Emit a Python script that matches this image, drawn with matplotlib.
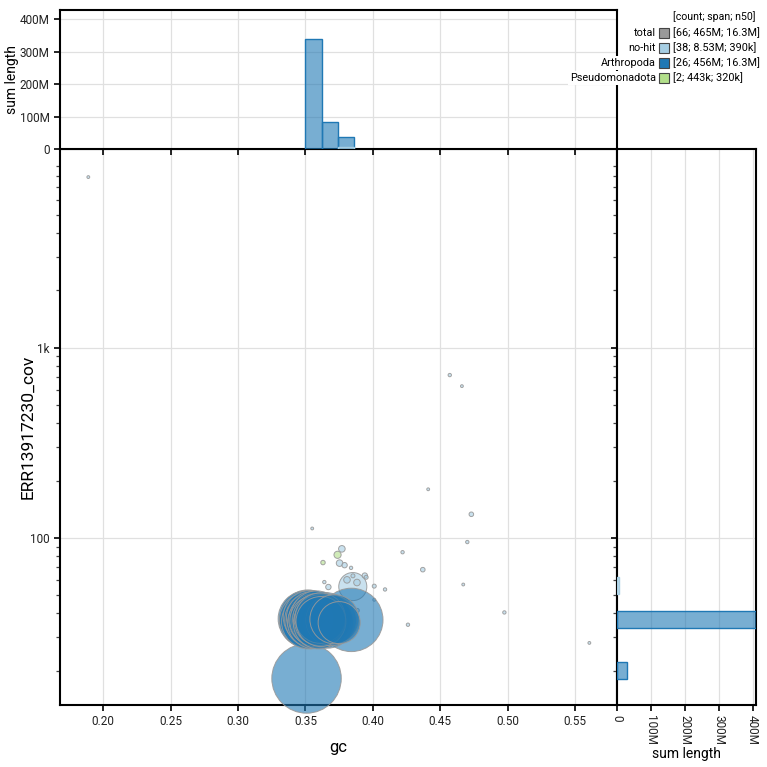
import numpy as np
import matplotlib.pyplot as plt
from matplotlib.patches import Rectangle
from matplotlib.ticker import FixedLocator, FuncFormatter, NullFormatter

plt.rcParams['font.family'] = ['Roboto', 'DejaVu Sans']

# contigs por categoria: gc, cobertura, longitud (Mbp)
nohit_gc = [0.189, 0.457, 0.466, 0.441, 0.473, 0.355, 0.470, 0.422, 0.437, 0.467,
            0.4975, 0.426, 0.5605, 0.401, 0.409, 0.394, 0.395, 0.377, 0.3753, 0.379,
            0.3838, 0.364, 0.367, 0.3808, 0.3852, 0.3882, 0.3851, 0.401, 0.3884,
            0.352, 0.355, 0.357, 0.359, 0.361, 0.363, 0.366, 0.368, 0.354]
nohit_cov = [7900, 718, 628, 180, 133, 112, 95, 84, 68, 56.8,
             40.5, 34.9, 28, 55.7, 53.5, 63.3, 62.0, 87.5, 73.6, 71.8,
             69.5, 58.5, 55.1, 60.1, 63.1, 58.2, 55.4, 47.2, 41.5,
             37, 36, 38, 35.5, 37.5, 36.5, 38.5, 36, 39]
nohit_len = [0.05, 0.07, 0.05, 0.05, 0.13, 0.05, 0.07, 0.07, 0.13, 0.05,
             0.07, 0.07, 0.05, 0.10, 0.07, 0.18, 0.10, 0.27, 0.27, 0.18,
             0.07, 0.07, 0.18, 0.27, 0.10, 0.27, 4.90, 0.05, 0.10,
             0.05, 0.05, 0.05, 0.05, 0.05, 0.05, 0.05, 0.05, 0.04]

arth_gc = [0.3508, 0.3840, 0.3750,
           0.3505, 0.3512, 0.3518, 0.3525, 0.3532, 0.3540, 0.3547, 0.3553, 0.3560,
           0.3567, 0.3575, 0.3582, 0.3588, 0.3595, 0.3600, 0.3605, 0.3610, 0.3615,
           0.3625, 0.3645, 0.3665, 0.3690, 0.3715]
arth_cov = [18.2, 37.0, 35.8,
            37.5, 36.8, 37.9, 36.2, 38.3, 37.0, 36.5, 38.0, 35.8,
            37.2, 36.6, 38.5, 36.0, 37.4, 35.5, 36.9, 37.8, 36.3,
            36.4, 37.6, 35.9, 36.8, 37.3]
arth_len = [30.0, 25.0, 11.0,
            19.5, 19.0, 19.5, 18.5, 17.5, 17.0, 17.0, 17.0, 16.8,
            16.6, 16.5, 16.5, 16.5, 16.3, 16.3, 16.0, 15.8, 15.5,
            17.5, 17.0, 16.5, 16.0, 15.0]

pseudo_gc = [0.3738, 0.363]
pseudo_cov = [81.4, 74.1]
pseudo_len = [0.32, 0.123]

categorias = ['no-hit', 'Arthropoda', 'Pseudomonadota']
colores = {'no-hit': '#a6cee3', 'Arthropoda': '#1f78b4', 'Pseudomonadota': '#b2df8a'}
leyenda_filas = [('total', '#999999', '[66; 465M; 16.3M]'),
                 ('no-hit', '#a6cee3', '[38; 8.53M; 390k]'),
                 ('Arthropoda', '#1f78b4', '[26; 456M; 16.3M]'),
                 ('Pseudomonadota', '#b2df8a', '[2; 443k; 320k]')]

datos = {'no-hit': (nohit_gc, nohit_cov, nohit_len),
         'Arthropoda': (arth_gc, arth_cov, arth_len),
         'Pseudomonadota': (pseudo_gc, pseudo_cov, pseudo_len)}

DPI = 100
W = 767


def area(len_mb):
    r_px = 6.34 * np.sqrt(np.asarray(len_mb))
    return (2 * r_px * 72 / DPI) ** 2


def rgba(hexcol, a):
    h = hexcol.lstrip('#')
    return tuple(int(h[i:i + 2], 16) / 255 for i in (0, 2, 4)) + (a,)


fig = plt.figure(figsize=(W / DPI, W / DPI), dpi=DPI)
ax = fig.add_axes([60 / W, 62 / W, 557 / W, 556 / W])
ax_top = fig.add_axes([60 / W, 618 / W, 557 / W, 139 / W], sharex=ax)
ax_right = fig.add_axes([617 / W, 62 / W, 139 / W, 556 / W], sharey=ax)

gc_edges = 0.350 + 0.0121 * np.arange(-16, 21)
cov_edges = 10 ** (np.log10(33.5) + 0.0895 * np.arange(-8, 31))

# dispersion
for cat in categorias:
    gc, cov, ln = datos[cat]
    orden = np.argsort(ln)[::-1]
    gc = np.asarray(gc)[orden]
    cov = np.asarray(cov)[orden]
    ln = np.asarray(ln)[orden]
    ax.scatter(gc, cov, s=area(ln), facecolor=rgba(colores[cat], 0.6),
               edgecolor=(0.6, 0.6, 0.6, 0.9), linewidth=0.7, clip_on=False, zorder=3)

# histogramas (bins casi vacios no se ven en el original)
for cat in ['Arthropoda', 'no-hit', 'Pseudomonadota']:
    gc, cov, ln = datos[cat]
    w = np.asarray(ln) * 1e6
    h, _ = np.histogram(gc, bins=gc_edges, weights=w)
    m = h > 1e6
    ax_top.bar(gc_edges[:-1][m], h[m], width=np.diff(gc_edges)[m], align='edge',
               facecolor=rgba(colores[cat], 0.6), edgecolor=colores[cat], linewidth=1, zorder=3)
    h, _ = np.histogram(cov, bins=cov_edges, weights=w)
    m = h > 1e6
    ax_right.barh(cov_edges[:-1][m], h[m], height=np.diff(cov_edges)[m], align='edge',
                  facecolor=rgba(colores[cat], 0.6), edgecolor=colores[cat], linewidth=1, zorder=3)

ax.set_yscale('log')
ax.set_xlim(0.168, 0.581)
ax.set_ylim(13.2, 11100)
ax_top.set_ylim(0, 428e6)
ax_right.set_xlim(0, 410e6)

xt = [0.20, 0.25, 0.30, 0.35, 0.40, 0.45, 0.50, 0.55]
ax.xaxis.set_major_locator(FixedLocator(xt))
ax.xaxis.set_major_formatter(FuncFormatter(lambda v, p: f'{v:.2f}'))
ax.yaxis.set_major_locator(FixedLocator([100, 1000]))
ax.yaxis.set_major_formatter(FuncFormatter(lambda v, p: '1k' if v >= 1000 else f'{int(v)}'))
menores = [m * d for d in (10, 100, 1000) for m in range(2, 10)]
ax.yaxis.set_minor_locator(FixedLocator(menores))
ax.yaxis.set_minor_formatter(NullFormatter())

fmt_len = FuncFormatter(lambda v, p: '0' if v == 0 else f'{int(round(v / 1e6))}M')
ax_top.yaxis.set_major_locator(FixedLocator([0, 100e6, 200e6, 300e6, 400e6]))
ax_top.yaxis.set_major_formatter(fmt_len)
ax_right.xaxis.set_major_locator(FixedLocator([0, 100e6, 200e6, 300e6, 400e6]))
ax_right.xaxis.set_major_formatter(fmt_len)

plt.setp(ax_top.get_xticklabels(), visible=False)
plt.setp(ax_right.get_yticklabels(), visible=False)

for a in (ax, ax_top, ax_right):
    for s in a.spines.values():
        s.set_linewidth(1.5)
        s.set_color('black')
    a.tick_params(which='major', length=4, width=1.2, labelsize=8.5, colors='black',
                  labelcolor='#222222')
    a.tick_params(which='minor', length=3, width=0.9, colors='#444444')
    a.grid(True, which='major', color='#e0e0e0', linewidth=0.9, zorder=0)
    a.set_axisbelow(True)

ax_top.tick_params(axis='x', which='both', bottom=True, direction='out')
ax_right.tick_params(axis='y', which='both', left=True, direction='out')
ax_right.tick_params(axis='x', labelrotation=-90)
for lab in ax_right.get_xticklabels():
    lab.set_va('top')

ax.set_xlabel('gc', fontsize=12, labelpad=8)
ax.set_ylabel('ERR13917230_cov', fontsize=12.5)
ax.yaxis.set_label_coords(-0.045, 0.5)
ax_top.set_ylabel('sum length', fontsize=10)
ax_top.yaxis.set_label_coords(-0.074, 0.5)
ax_right.set_xlabel('sum length', fontsize=10, labelpad=1)

# leyenda
fig.text(673 / W, 1 - 17 / W, '[count; span; n50]', fontsize=7.6, va='center', ha='left')
for i, (nombre, col, val) in enumerate(leyenda_filas):
    y = 33 + i * 15
    fig.text(656 / W, 1 - y / W, nombre, fontsize=7.8, ha='right', va='center',
             bbox=dict(facecolor='white', edgecolor='none', pad=1.5))
    fig.add_artist(Rectangle((659 / W, 1 - (y + 5) / W), 10 / W, 10 / W, facecolor=col,
                             edgecolor='#444444', linewidth=0.8, transform=fig.transFigure))
    fig.text(673 / W, 1 - y / W, val, fontsize=7.8, ha='left', va='center',
             bbox=dict(facecolor='white', edgecolor='none', pad=1.5))

fig.savefig('out.png', dpi=DPI)
